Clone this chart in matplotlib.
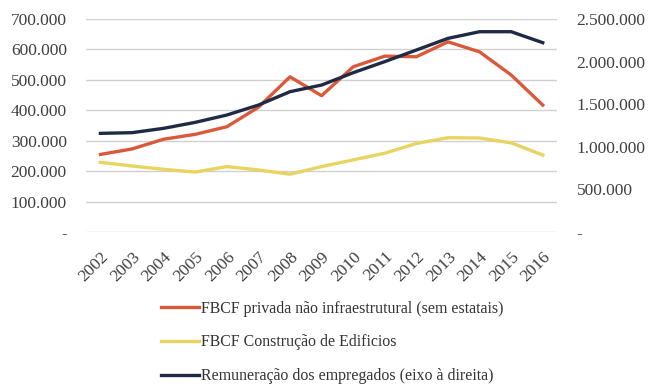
import matplotlib
matplotlib.use("Agg")
import matplotlib.pyplot as plt
from matplotlib.ticker import FuncFormatter

years = [str(y) for y in range(2002, 2017)]
fbcf_privada = [255000, 273000, 305000, 321000, 346000, 410000, 510000, 448000,
                543000, 578000, 576000, 625000, 592000, 516000, 417000]
fbcf_edificios = [229000, 217000, 206000, 197000, 215000, 204000, 190000, 215000,
                  237000, 259000, 291000, 310000, 309000, 293000, 253000]
remuneracao = [1158000, 1166000, 1217000, 1287000, 1373000, 1490000, 1647000, 1725000,
               1870000, 2000000, 2136000, 2273000, 2351000, 2351000, 2222000]

labels = ["FBCF privada não infraestrutural (sem estatais)",
          "FBCF Construção de Edificios",
          "Remuneração dos empregados (eixo à direita)"]
colors = ["#d9593a", "#e8d461", "#1f2a44"]

plt.rcParams['font.family'] = ['Liberation Serif', 'DejaVu Serif']

fig = plt.figure(figsize=(6.53, 3.88), dpi=100)
ax = fig.add_axes([0.132, 0.402, 0.721, 0.549])
ax2 = ax.twinx()

x = list(range(len(years)))
l1, = ax.plot(x, fbcf_privada, color=colors[0], lw=2.4)
l2, = ax.plot(x, fbcf_edificios, color=colors[1], lw=2.4)
l3, = ax2.plot(x, remuneracao, color=colors[2], lw=2.4)

def fmt(v, pos):
    if abs(v) < 1:
        return "-"
    return f"{int(round(v)):,}".replace(",", ".")

ax.set_ylim(0, 700000)
ax.set_yticks(range(0, 700001, 100000))
ax2.set_ylim(0, 2500000)
ax2.set_yticks(range(0, 2500001, 500000))
ax.yaxis.set_major_formatter(FuncFormatter(fmt))
ax2.yaxis.set_major_formatter(FuncFormatter(fmt))
ax.set_xlim(-0.45, len(years) - 1 + 0.45)
ax.set_xticks(x)
ax.set_xticklabels(years, rotation=45, ha='right', rotation_mode='anchor')

ax.grid(axis='y', color='#d0d0d0', lw=1)
ax.set_axisbelow(True)
for a in (ax, ax2):
    for s in a.spines.values():
        s.set_visible(False)
    a.tick_params(length=0, labelsize=12.5, colors='#404040')
ax.tick_params(axis='x', pad=12)
ax.tick_params(axis='y', pad=14)
ax2.tick_params(axis='y', pad=14)

fig.legend([l1, l2, l3], labels, loc='upper left', bbox_to_anchor=(0.225, 0.262),
           frameon=False, fontsize=11.4, handlelength=2.4, handletextpad=0.1,
           labelspacing=1.12, labelcolor='#333333')

fig.savefig("out.png", dpi=100, facecolor='white')
